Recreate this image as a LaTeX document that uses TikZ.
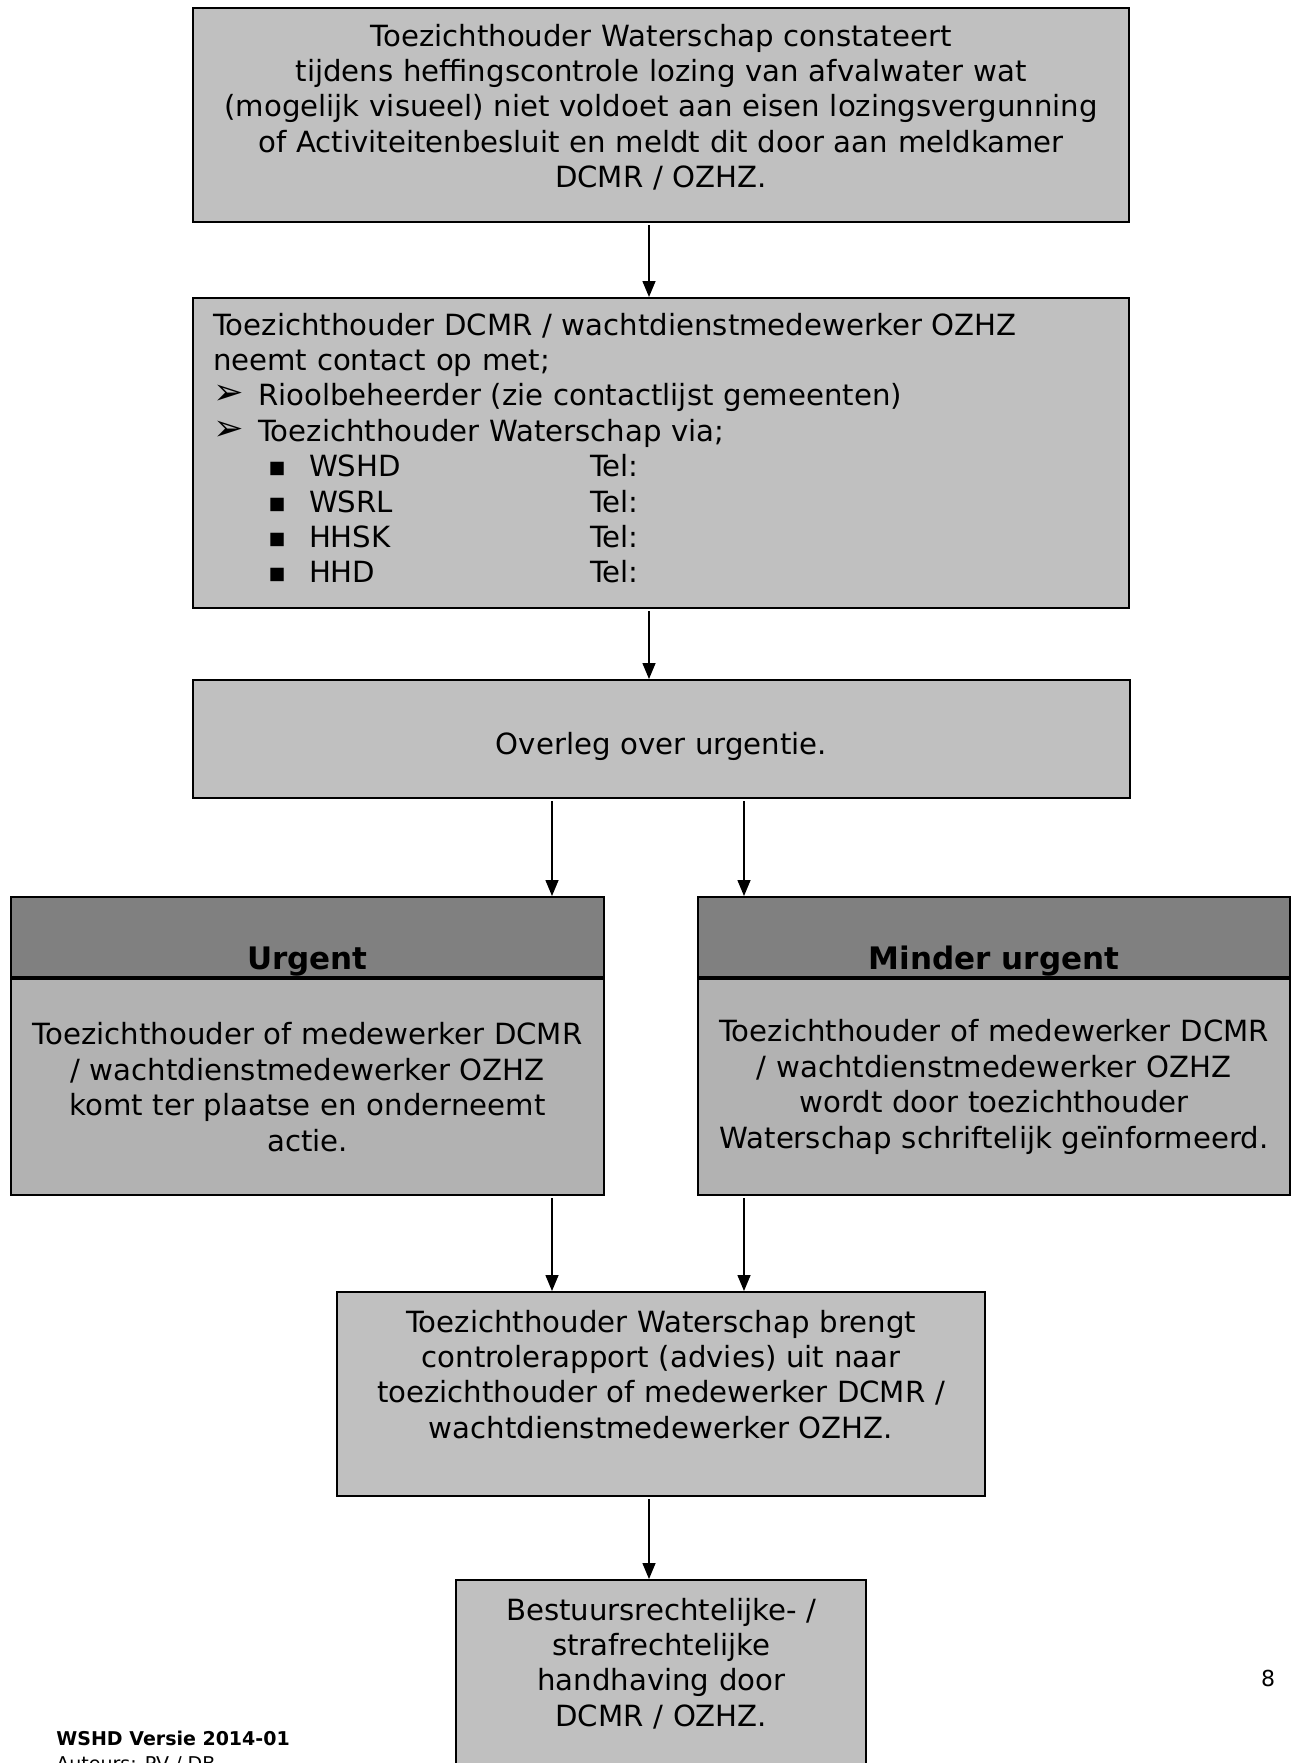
\documentclass[tikz,border=0pt]{standalone}
\usepackage{fontspec}
\setmainfont{DejaVu Sans}
\usetikzlibrary{arrows.meta}
\definecolor{boxgray}{HTML}{C0C0C0}
\definecolor{bodygray}{HTML}{B2B2B2}
\definecolor{headgray}{HTML}{808080}
\newcommand{\pijlbul}{\makebox[22.5pt][l]{\raisebox{0.5pt}{\scalebox{1.25}{➢}}}}
\newcommand{\blokbul}{\hspace*{28pt}\makebox[20pt][l]{\raisebox{1.5pt}{\scalebox{0.6}{■}}}}
\begin{document}
\begin{tikzpicture}[x=0.5pt,y=-0.5pt,
		box/.style={draw=black,line width=1pt,fill=boxgray,anchor=north,align=center,inner xsep=6pt,inner ysep=8pt,font=\fontsize{14.6pt}{17.7pt}\selectfont},
		head/.style={draw=black,line width=1pt,fill=headgray,anchor=north,inner sep=0pt,text height=36pt,text depth=4pt,font=\fontsize{15.5pt}{18pt}\selectfont\bfseries},
		body/.style={draw=black,line width=1pt,fill=bodygray,anchor=north,align=center,inner xsep=6pt,inner ysep=0pt,minimum height=108pt,font=\fontsize{14.6pt}{17.7pt}\selectfont},
		arr/.style={line width=0.75pt,-{Triangle[width=6.5pt,length=8pt]},shorten <=1pt}]
	\useasboundingbox (0,0) rectangle (1292,1763);
	% melding
	\node[box,text width=456pt,text height=11pt,text depth=80pt](b1) at (661,7){Toezichthouder Waterschap constateert\\ tijdens heffingscontrole lozing van afvalwater wat\\ (mogelijk visueel) niet voldoet aan eisen lozingsvergunning\\ of Activiteitenbesluit en meldt dit door aan meldkamer\\ DCMR / OZHZ.};
	% contact
	\node[box,align=left,inner xsep=10pt,text width=448pt,text height=10.5pt,text depth=128.5pt](b2) at (661,297){Toezichthouder DCMR / wachtdienstmedewerker OZHZ\\
		neemt contact op met;\\
		\pijlbul Rioolbeheerder (zie contactlijst gemeenten)\\
		\pijlbul Toezichthouder Waterschap via;\\
		\blokbul\makebox[140.5pt][l]{WSHD}Tel:\\
		\blokbul\makebox[140.5pt][l]{WSRL}Tel:\\
		\blokbul\makebox[140.5pt][l]{HHSK}Tel:\\
		\blokbul\makebox[140.5pt][l]{HHD}Tel:};
	\node[box,text width=456.5pt,text height=29pt,text depth=14pt](b3) at (661.5,679){Overleg over urgentie.};
	% urgent / minder urgent
	\node[head,minimum width=296.5pt](urgh) at (307.5,896){Urgent};
	\node[body,text width=284.5pt](urgb) at (urgh.south){Toezichthouder of medewerker DCMR\\ / wachtdienstmedewerker OZHZ\\ komt ter plaatse en onderneemt\\ actie.};
	\node[head,minimum width=296pt](minh) at (994,896){Minder urgent};
	\node[body,text width=284pt](minb) at (minh.south){Toezichthouder of medewerker DCMR\\ / wachtdienstmedewerker OZHZ\\ wordt door toezichthouder\\ Waterschap schriftelijk geïnformeerd.};
	% advies en handhaving
	\node[box,text width=312pt,text height=12pt,text depth=74pt](b5) at (661,1291){Toezichthouder Waterschap brengt\\ controlerapport (advies) uit naar\\ toezichthouder of medewerker DCMR /\\ wachtdienstmedewerker OZHZ.};
	\node[box,text width=193pt,text height=12pt,text depth=110pt](b6) at (661.3,1579){Bestuursrechtelijke- /\\ strafrechtelijke\\ handhaving door\\ DCMR / OZHZ.};
	% pijlen
	\coordinate (mx) at (649,0);
	\coordinate (lx) at (552,0);
	\coordinate (rx) at (744,0);
	\draw[arr](b1.south -| mx)--(b2.north -| mx);
	\draw[arr](b2.south -| mx)--(b3.north -| mx);
	\draw[arr](b3.south -| lx)--(urgh.north -| lx);
	\draw[arr](b3.south -| rx)--(minh.north -| rx);
	\draw[arr](urgb.south -| lx)--(b5.north -| lx);
	\draw[arr](minb.south -| rx)--(b5.north -| rx);
	\draw[arr](b5.south -| mx)--(b6.north -| mx);
	% voettekst
	\node[anchor=base west,inner sep=0pt,font=\fontsize{9.5pt}{12pt}\selectfont\bfseries](ver) at (56,1745){WSHD Versie 2014-01};
	\node[anchor=base west,inner sep=0pt,font=\fontsize{9.5pt}{12pt}\selectfont](aut) at (56,1770){Auteurs: PV / DB};
	\node[inner sep=0pt,font=\fontsize{11pt}{13pt}\selectfont](pnum) at (1268,1678){8};
\end{tikzpicture}
\end{document}
